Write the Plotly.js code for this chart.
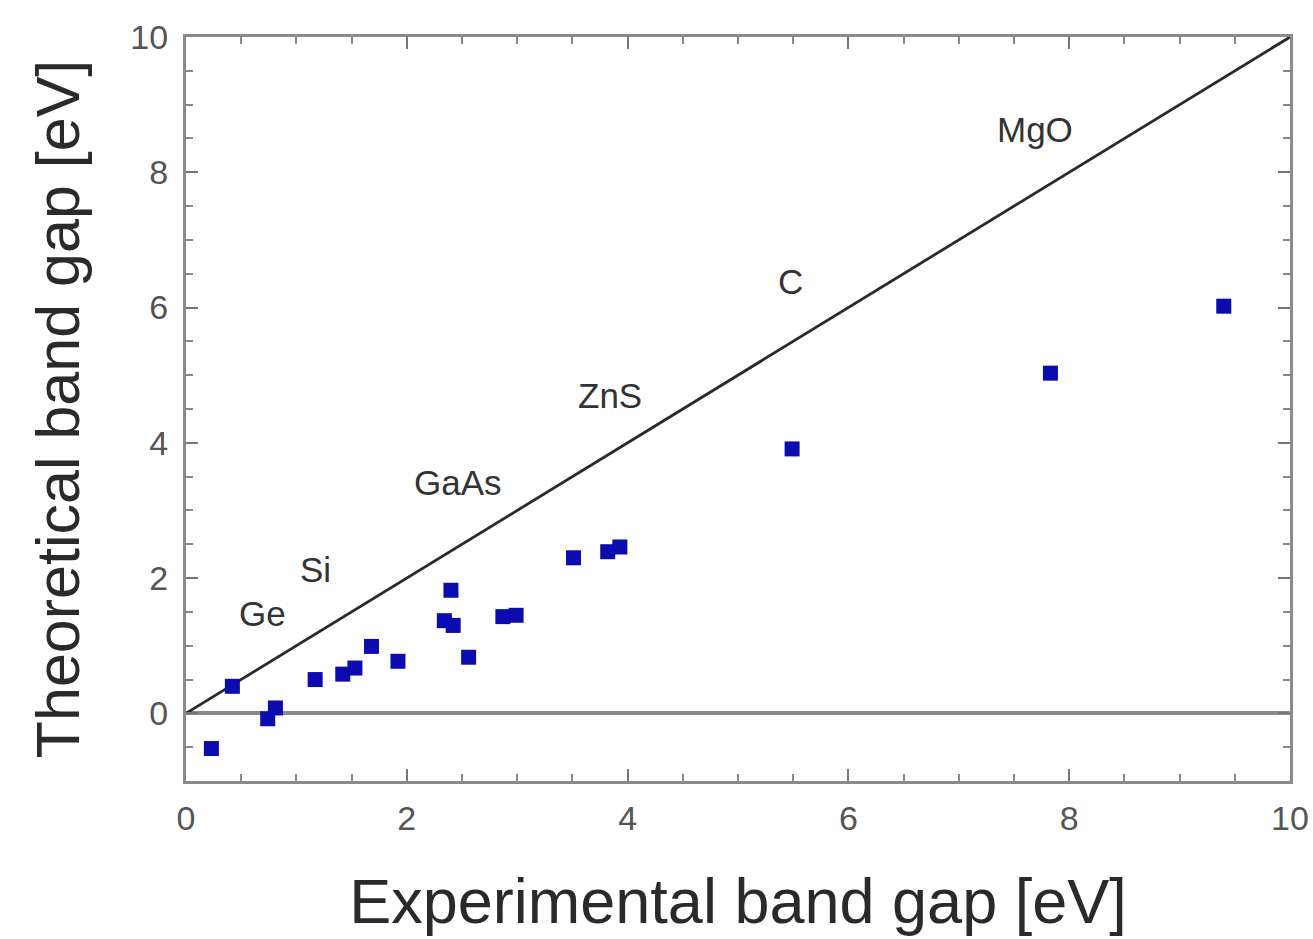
<!DOCTYPE html>
<html>
<head>
<meta charset="utf-8">
<script src="https://cdn.plot.ly/plotly-3.0.1.min.js"></script>
<style>html,body{margin:0;padding:0;background:#fff;}#chart{width:1313px;height:939px;}</style>
</head>
<body>
<div id="chart"></div>
<script>
// Experimental vs theoretical band gaps (eV)
const expGap = [0.23, 0.42, 0.74, 0.81, 1.17, 1.42, 1.53, 1.68, 1.92, 2.40, 2.34, 2.42, 2.56, 2.87, 2.99, 3.51, 3.82, 3.93, 5.49, 7.83, 9.40];
const theoGap = [-0.52, 0.40, -0.08, 0.08, 0.50, 0.58, 0.67, 0.99, 0.77, 1.82, 1.37, 1.30, 0.83, 1.43, 1.45, 2.30, 2.39, 2.46, 3.91, 5.03, 6.02];

// Reference line y = x
const diagX = [0, 10];
const diagY = [0, 10];

// Material labels
const labelNames = ["Ge", "Si", "GaAs", "ZnS", "C", "MgO"];
const labelX = [0.69, 1.17, 2.46, 3.84, 5.48, 7.69];
const labelY = [1.48, 2.12, 3.42, 4.70, 6.38, 8.63];

const xTicks = [0, 2, 4, 6, 8, 10];
const yTicks = [0, 2, 4, 6, 8, 10];

const traces = [
  {
    x: diagX, y: diagY, mode: 'lines', type: 'scatter',
    line: {color: '#2a2a2a', width: 2.8}, hoverinfo: 'skip', showlegend: false
  },
  {
    x: expGap, y: theoGap, mode: 'markers', type: 'scatter',
    marker: {symbol: 'square', size: 15, color: '#0b0bb0', line: {width: 0}},
    showlegend: false
  }
];

const annotations = labelNames.map((t, i) => ({
  x: labelX[i], y: labelY[i], xref: 'x', yref: 'y', text: t, showarrow: false,
  font: {family: 'Liberation Sans, Arial, sans-serif', size: 35, color: '#333333'}
}));

const axisCommon = {
  showgrid: false, showline: true, linecolor: '#8a8a8a', linewidth: 3, mirror: 'ticks',
  ticks: 'inside', ticklen: 12, tickwidth: 2, tickcolor: '#777777',
  minor: {ticks: 'inside', ticklen: 7, tickwidth: 2, tickcolor: '#888888', dtick: 0.5},
  tickfont: {family: 'Liberation Sans, Arial, sans-serif', size: 34, color: '#555555'},
  fixedrange: true
};

const layout = {
  width: 1313, height: 939,
  paper_bgcolor: '#ffffff', plot_bgcolor: '#ffffff',
  margin: {l: 186, r: 23, t: 37, b: 158},
  font: {family: 'Liberation Sans, Arial, sans-serif'},
  xaxis: Object.assign({}, axisCommon, {
    range: [0, 10], tickvals: xTicks, ticktext: xTicks.map(String), zeroline: false,
    ticklabelstandoff: 5,
    title: {text: 'Experimental band gap [eV]', font: {size: 63, color: '#2a2a2a'}, standoff: 44}
  }),
  yaxis: Object.assign({}, axisCommon, {
    range: [-1, 10], tickvals: yTicks, ticktext: yTicks.map(String),
    zeroline: true, zerolinecolor: '#8a8a8a', zerolinewidth: 4,
    ticklabelstandoff: 8,
    title: {text: 'Theoretical band gap [eV]', font: {size: 61, color: '#2a2a2a'}, standoff: 32}
  }),
  annotations: annotations,
  showlegend: false
};

Plotly.newPlot('chart', traces, layout, {displayModeBar: false, staticPlot: true});
</script>
</body>
</html>
